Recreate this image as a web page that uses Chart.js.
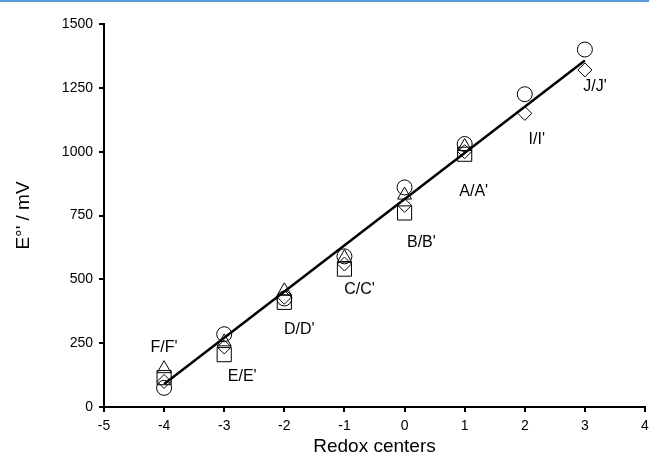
<!DOCTYPE html>
<html>
<head>
<meta charset="utf-8">
<script src="https://cdn.jsdelivr.net/npm/chart.js@4"></script>
<style>
  body { margin: 0; background: #fff; }
  #topline { position: absolute; left: 0; top: 0; width: 649px; height: 2px; background: #5b9bd5; }
  #wrap { position: absolute; left: 0; top: 0; width: 649px; height: 466px; overflow: hidden; }
</style>
</head>
<body>
<div id="wrap"><canvas id="redox" width="656" height="466"></canvas></div>
<div id="topline"></div>
<script>
// redox centre positions
const centers = [-4, -3, -2, -1, 0, 1, 2, 3];

// E°' values (mV) for each marker series
const circleVals   = [75, 285, 425, 590, 860, 1030, 1225, 1400];
const triangleVals = [150, 255, 455, 585, 830, 1020, null, null];
const squareVals   = [115, 205, 410, 540, 760, 990, null, null];
const diamondVals  = [100, 235, 430, 560, 790, 1000, 1150, 1320];

// fitted line end points
const fitX = [-4, 3];
const fitY = [90, 1357];

// pair labels and where they sit
const pairNames = ["F/F'", "E/E'", "D/D'", "C/C'", "B/B'", "A/A'", "I/I'", "J/J'"];
const pairX = [-4, -2.7, -1.75, -0.75, 0.28, 1.15, 2.2, 3.17];
const pairY = [231, 118, 302, 458, 642, 842, 1046, 1253];

function toPoints(xs, ys) {
    const pts = [];
    for (let i = 0; i < xs.length; i++) {
        if (ys[i] !== null) pts.push({ x: xs[i], y: ys[i] });
    }
    return pts;
}

function markerSet(label, vals, style, radius) {
    return {
        type: "scatter",
        label: label,
        data: toPoints(centers, vals),
        pointStyle: style,
        pointRadius: radius,
        pointBorderColor: "#000",
        pointBackgroundColor: "rgba(0,0,0,0)",
        pointBorderWidth: 1,
        order: 1
    };
}

const pairLabels = {
    id: "pairLabels",
    afterDatasetsDraw(chart) {
        const ctx = chart.ctx;
        const xs = chart.scales.x, ys = chart.scales.y;
        ctx.save();
        ctx.font = "16px 'Liberation Sans', Arial, sans-serif";
        ctx.fillStyle = "#000";
        ctx.textAlign = "center";
        ctx.textBaseline = "middle";
        for (let i = 0; i < pairNames.length; i++) {
            ctx.fillText(pairNames[i], xs.getPixelForValue(pairX[i]), ys.getPixelForValue(pairY[i]));
        }
        ctx.restore();
    }
};

Chart.defaults.font.family = "'Liberation Sans', Arial, sans-serif";
Chart.defaults.color = "#000";

new Chart("redox", {
    type: "scatter",
    data: {
        datasets: [
            {
                type: "line",
                label: "fit",
                data: toPoints(fitX, fitY),
                borderColor: "#000",
                borderWidth: 2.5,
                pointRadius: 0,
                fill: false,
                order: 0
            },
            markerSet("circle", circleVals, "circle", 7.5),
            markerSet("triangle", triangleVals, "triangle", 8),
            markerSet("square", squareVals, "rect", 10),
            markerSet("diamond", diamondVals, "rectRot", 7)
        ]
    },
    options: {
        responsive: false,
        animation: false,
        layout: { padding: { left: 8, right: 0, top: 24, bottom: 4 } },
        plugins: { legend: { display: false }, tooltip: { enabled: false } },
        scales: {
            x: {
                type: "linear",
                min: -5, max: 4,
                ticks: { stepSize: 1, font: { size: 14 }, padding: 6, callback: v => String(v) },
                grid: { drawOnChartArea: false, drawTicks: true, tickLength: 5, color: "#000", lineWidth: 2 },
                border: { color: "#000", width: 2 },
                title: { display: true, text: "Redox centers", font: { size: 19 }, padding: { top: 2 } },
                afterFit(s) { s.height = 55; }
            },
            y: {
                min: 0, max: 1500,
                ticks: { stepSize: 250, font: { size: 14 }, padding: 6, callback: v => String(v) },
                grid: { drawOnChartArea: false, drawTicks: true, tickLength: 5, color: "#000", lineWidth: 2 },
                border: { color: "#000", width: 2 },
                title: { display: true, text: "E\u00b0' / mV", font: { size: 19 }, padding: { bottom: 4 } },
                afterFit(s) { s.width = 96; }
            }
        }
    },
    plugins: [pairLabels]
});
</script>
</body>
</html>
